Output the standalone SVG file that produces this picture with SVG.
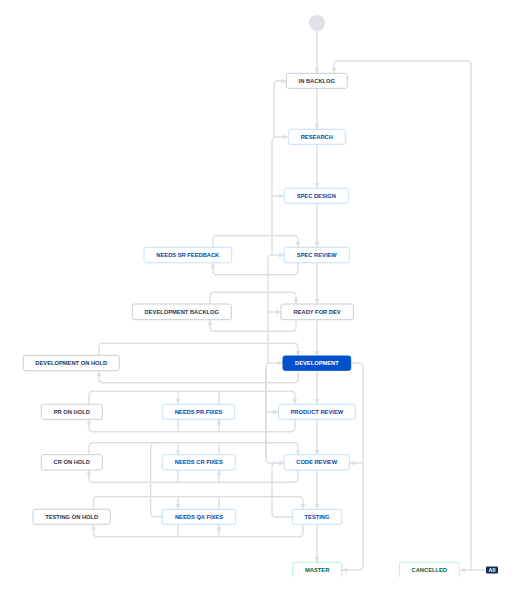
<svg xmlns="http://www.w3.org/2000/svg" width="527" height="603" viewBox="0 0 527 603">
<style>
.bg{fill:#ffffff}
.n rect{stroke-width:1;rx:2;ry:2}
.g rect{fill:#ffffff;stroke:#c9ced6}
.b rect{fill:#ffffff;stroke:#c7ddff}
.gr rect{fill:#ffffff;stroke:#b8f2d4}
.a rect{fill:#0052cc;stroke:#0052cc}
.n text{font-family:"Liberation Sans",Arial,sans-serif;font-size:5.75px;font-weight:bold;text-anchor:middle}
.g text{fill:#253858}
.b text{fill:#0747a6}
.gr text{fill:#006644}
.a text{fill:#ffffff}
#connectors path{fill:none;stroke:#dcdfe4;stroke-width:1.4}
.arr{marker-end:url(#ah)}
</style>
<defs>
<marker id="ah" markerUnits="userSpaceOnUse" markerWidth="6" markerHeight="6" refX="5" refY="3" orient="auto">
<path d="M0,0.5 L5,3 L0,5.5 z" fill="#dcdfe4"/>
</marker>
<clipPath id="cut"><rect x="0" y="0" width="527" height="577"/></clipPath>
</defs>
<rect class="bg" x="0" y="0" width="527" height="603"/>

<g id="connectors">
<path class="arr" d="M317,31 V73"/>
<path class="arr" d="M317,88 V129"/>
<path class="arr" d="M317,144 V188"/>
<path class="arr" d="M317,203 V247"/>
<path class="arr" d="M317,263 V304"/>
<path class="arr" d="M317,320 V356"/>
<path class="arr" d="M317,370 V404"/>
<path class="arr" d="M317,419 V455"/>
<path class="arr" d="M317,470 V509"/>
<path class="arr" d="M317,524 V562"/>
<path class="arr" d="M471,570 V65 Q471,61 467,61 H338 Q334,61 334,65 V73"/>
<path class="arr" d="M486,570 H460"/>
<path class="arr" d="M351,363 H359 Q363,363 363,367 V566 Q363,570 359,570 H342"/>
<path class="arr" d="M363,463 H350"/>
<path class="arr" d="M274,137 V85 Q274,81 278,81 H286"/>
<path class="arr" d="M272,255 V141 Q272,137 276,137 H288"/>
<path class="arr" d="M272,196 H284"/>
<path class="arr" d="M268,363 V259 Q268,255 272,255 H284"/>
<path class="arr" d="M268,312 H281"/>
<path class="arr" d="M266,459 V367 Q266,363 270,363 H283"/>
<path class="arr" d="M266,412 H278"/>
<path class="arr" d="M266,367 V459 Q266,463 270,463 H284"/>
<path d="M292,517 H276 Q272,517 272,513 V467 Q272,463 276,463"/>
<path class="arr" d="M213,247 V239.7 Q213,235.7 217,235.7 H294 Q298,235.7 298,239.7 V247"/>
<path class="arr" d="M298,263 V270.7 Q298,274.7 294,274.7 H217 Q213,274.7 213,270.7 V263"/>
<path class="arr" d="M210,304 V296.3 Q210,292.3 214,292.3 H292 Q296,292.3 296,296.3 V304"/>
<path class="arr" d="M296,320 V327.3 Q296,331.3 292,331.3 H214 Q210,331.3 210,327.3 V320"/>
<path class="arr" d="M99,355 V347.3 Q99,343.3 103,343.3 H294 Q298,343.3 298,347.3 V356"/>
<path class="arr" d="M298,370 V378.7 Q298,382.7 294,382.7 H103 Q99,382.7 99,378.7 V371"/>
<path class="arr" d="M89,404 V395.3 Q89,391.3 93,391.3 H291 Q295,391.3 295,395.3 V404"/>
<path class="arr" d="M178,391.3 V404"/>
<path d="M219,404 V391.3"/>
<path class="arr" d="M295,419 V427.7 Q295,431.7 291,431.7 H93 Q89,431.7 89,427.7 V419.5"/>
<path class="arr" d="M219,431.7 V419.5"/>
<path d="M178,419.5 V431.7"/>
<path class="arr" d="M89,454.5 V446.7 Q89,442.7 93,442.7 H294 Q298,442.7 298,446.7 V454.5"/>
<path class="arr" d="M178,442.7 V454.5"/>
<path d="M219,454.5 V442.7"/>
<path class="arr" d="M298,470 V478.3 Q298,482.3 294,482.3 H93 Q89,482.3 89,478.3 V470.3"/>
<path class="arr" d="M219,482.3 V470.3"/>
<path d="M178,470.3 V482.3"/>
<path d="M162,516.7 H154.7 Q150.7,516.7 150.7,512.7 V446.7 Q150.7,442.7 154.7,442.7"/>
<path class="arr" d="M93.5,509 V500.7 Q93.5,496.7 97.5,496.7 H299 Q303,496.7 303,500.7 V509"/>
<path class="arr" d="M178,496.7 V509"/>
<path d="M219,509 V496.7"/>
<path class="arr" d="M303,524.5 V532.7 Q303,536.7 299,536.7 H97.5 Q93.5,536.7 93.5,532.7 V524.7"/>
<path class="arr" d="M219,536.7 V524.7"/>
<path d="M178,524.7 V536.7"/>
</g>

<g id="start"><circle cx="317" cy="23" r="8" fill="#dfe1e6"/></g>

<g id="in-backlog" class="n g"><rect x="286.3" y="73.3" width="61" height="15"/><text x="316.8" y="82.9">IN BACKLOG</text></g>
<g id="research" class="n b"><rect x="288.3" y="129.3" width="57" height="15"/><text x="316.8" y="138.9">RESEARCH</text></g>
<g id="spec-design" class="n b"><rect x="284.3" y="188.3" width="64" height="15"/><text x="316.3" y="197.9">SPEC DESIGN</text></g>
<g id="spec-review" class="n b"><rect x="284.3" y="247.3" width="65" height="15.5"/><text x="316.8" y="257.1">SPEC REVIEW</text></g>
<g id="needs-sr-feedback" class="n b"><rect x="144" y="247.3" width="87.7" height="15.5"/><text x="187.8" y="257.1">NEEDS SR FEEDBACK</text></g>
<g id="ready-for-dev" class="n g"><rect x="281" y="304" width="72.3" height="15.7"/><text x="317.1" y="313.9">READY FOR DEV</text></g>
<g id="development-backlog" class="n g"><rect x="132.3" y="304" width="99" height="15.7"/><text x="181.8" y="313.9">DEVELOPMENT BACKLOG</text></g>
<g id="development" class="n a"><rect x="283" y="356" width="67.7" height="14.3"/><text x="316.9" y="365.2">DEVELOPMENT</text></g>
<g id="development-on-hold" class="n g"><rect x="23.3" y="355.3" width="96" height="15.4"/><text x="71.3" y="365.1">DEVELOPMENT ON HOLD</text></g>
<g id="pr-on-hold" class="n g"><rect x="41.3" y="404.3" width="61" height="15"/><text x="71.8" y="413.9">PR ON HOLD</text></g>
<g id="needs-pr-fixes" class="n b"><rect x="162.3" y="404.3" width="72.4" height="15"/><text x="198.5" y="413.9">NEEDS PR FIXES</text></g>
<g id="product-review" class="n b"><rect x="278.3" y="404.3" width="77" height="15"/><text x="316.8" y="413.9">PRODUCT REVIEW</text></g>
<g id="cr-on-hold" class="n g"><rect x="41.3" y="454.7" width="61" height="15.3"/><text x="71.8" y="464.4">CR ON HOLD</text></g>
<g id="needs-cr-fixes" class="n b"><rect x="162.3" y="454.7" width="73" height="15.3"/><text x="198.8" y="464.4">NEEDS CR FIXES</text></g>
<g id="code-review" class="n b"><rect x="284" y="454.7" width="65.4" height="15.3"/><text x="316.7" y="464.4">CODE REVIEW</text></g>
<g id="testing-on-hold" class="n g"><rect x="33" y="509.3" width="77.3" height="15"/><text x="71.7" y="518.9">TESTING ON HOLD</text></g>
<g id="needs-qa-fixes" class="n b"><rect x="162.3" y="509.3" width="73.4" height="15"/><text x="199" y="518.9">NEEDS QA FIXES</text></g>
<g id="testing" class="n b"><rect x="292.3" y="509.3" width="49.4" height="15"/><text x="317" y="518.9">TESTING</text></g>
<g id="master" class="n gr" clip-path="url(#cut)"><rect x="292.7" y="562.3" width="49" height="20"/><text x="317.2" y="571.9">MASTER</text></g>
<g id="cancelled" class="n gr" clip-path="url(#cut)"><rect x="399.3" y="562.3" width="60" height="20"/><text x="429.3" y="571.9">CANCELLED</text></g>
<g id="all-label"><rect x="486" y="566.5" width="12" height="7" rx="1" fill="#172b4d"/><text x="492" y="572" font-family="'Liberation Sans',Arial,sans-serif" font-size="5.5" font-weight="bold" fill="#ffffff" text-anchor="middle">All</text></g>
</svg>
